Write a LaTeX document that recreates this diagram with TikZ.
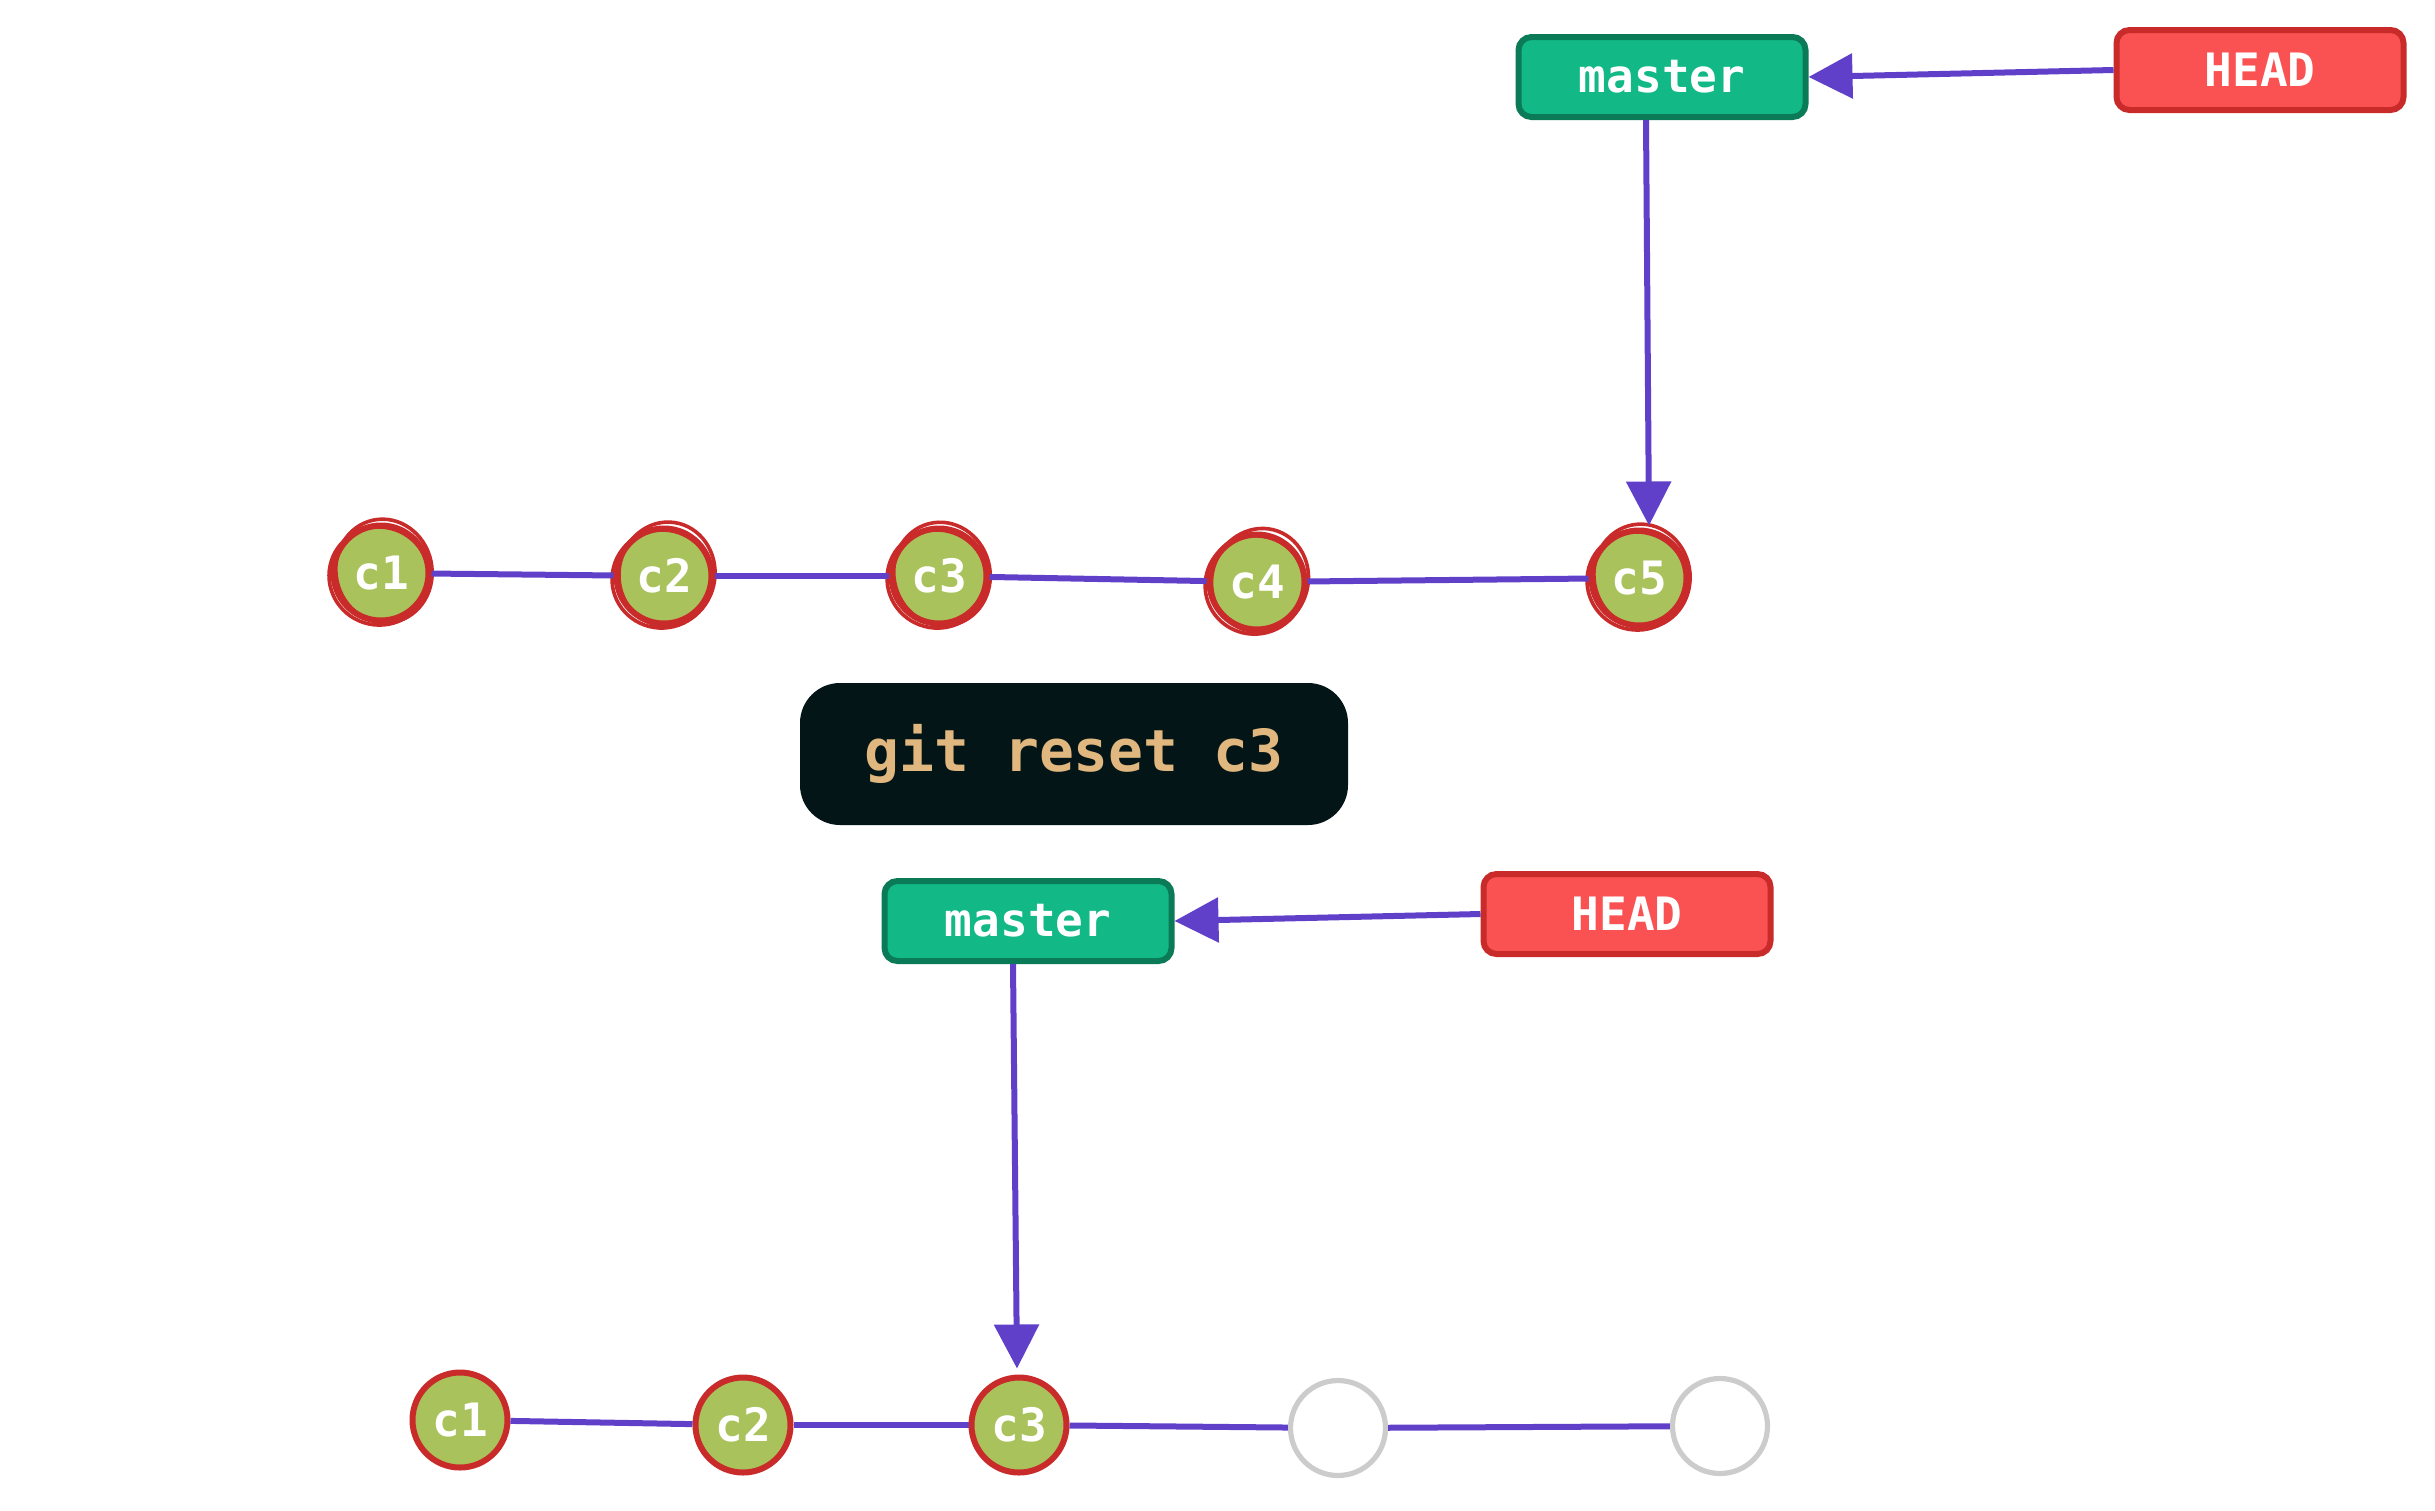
\documentclass[tikz,border=0pt]{standalone}
\usepackage{fontspec}
\newfontfamily\cf{DejaVu Sans Mono}
\usetikzlibrary{arrows.meta,calc}
\definecolor{gfill}{HTML}{12B886}
\definecolor{gdraw}{HTML}{0B7A57}
\definecolor{hfill}{HTML}{FA5252}
\definecolor{hdraw}{HTML}{C92A2A}
\definecolor{cfill}{HTML}{A9C25B}
\definecolor{edraw}{HTML}{CCCCCC}
\definecolor{vio}{HTML}{6040C8}
\definecolor{codebg}{HTML}{031516}
\definecolor{codefg}{HTML}{E0B77F}
\tikzset{
  branchbox/.style={draw=gdraw, fill=gfill, line width=3pt, rounded corners=6.5pt,
    minimum width=143.5pt, minimum height=40pt, text=white, font=\cf\bfseries\fontsize{23}{23}\selectfont},
  headbox/.style={draw=hdraw, fill=hfill, line width=3pt, rounded corners=6.5pt,
    minimum width=143.5pt, minimum height=40pt, text=white, font=\cf\bfseries\fontsize{23}{23}\selectfont},
  commit/.style={circle, draw=hdraw, fill=cfill, line width=3pt, minimum size=47.5pt, inner sep=0pt,
    text=white, font=\cf\bfseries\fontsize{23}{23}\selectfont},
  emptycommit/.style={circle, draw=edraw, line width=2.6pt, minimum size=47.5pt, inner sep=0pt},
  sketchline/.style={draw=hdraw, line width=1.8pt},
  link/.style={draw=vio, line width=3pt},
  pointer/.style={draw=vio, fill=vio, line width=3pt, -{Triangle[length=22pt,width=22pt]}},
  codebox/.style={fill=codebg, rounded corners=20pt, minimum width=274pt, minimum height=71pt,
    text=codefg, font=\cf\bfseries\fontsize{29}{29}\selectfont},
}
\begin{document}
\begin{tikzpicture}[x=0.5pt,y=-0.5pt]
\useasboundingbox (0,0) rectangle (2435,1510);
% top
\node[branchbox] (masterT) at (1662,77) {master\hspace{5pt}};
\node[headbox] (headT) at (2260,70) {HEAD\hspace{12pt}};
\node[commit] (c1T) at (381,573) {c1};
\node[commit] (c2T) at (664,576) {c2};
\node[commit] (c3T) at (939,576) {c3};
\node[commit] (c4T) at (1257,582) {c4};
\node[commit] (c5T) at (1639,578) {c5};
\foreach \n/\a in {c1T/12,c2T/-8,c3T/15,c4T/-20,c5T/10}{
  \draw[sketchline] ($(\n)+(3,-2)$) ellipse [x radius=24pt, y radius=26pt, rotate=\a];
  \draw[sketchline] ($(\n)+(-2,3)$) ellipse [x radius=25pt, y radius=24.5pt, rotate=-\a];
}
\draw[link] (c1T) -- (c2T);
\draw[link] (c2T) -- (c3T);
\draw[link] (c3T) -- (c4T);
\draw[link] (c4T) -- (c5T);
\draw[pointer] (headT.west) -- (masterT.east);
\draw[pointer] ($(masterT.south)+(-16,0)$) -- ($(c5T.north)+(10,-2)$);
% command
\node[codebox] (cmd) at (1074,754) {git reset c3};
% bottom
\node[branchbox] (masterB) at (1028,921) {master\hspace{5pt}};
\node[headbox] (headB) at (1627,914) {HEAD\hspace{12pt}};
\node[commit] (c1B) at (460,1420) {c1};
\node[commit] (c2B) at (743,1425) {c2};
\node[commit] (c3B) at (1019,1425) {c3};
\node[emptycommit] (c4B) at (1338,1428) {};
\node[emptycommit] (c5B) at (1720,1426) {};
\draw[link] (c1B) -- (c2B);
\draw[link] (c2B) -- (c3B);
\draw[link] (c3B) -- (c4B);
\draw[link] (c4B) -- (c5B);
\draw[pointer] (headB.west) -- (masterB.east);
\draw[pointer] ($(masterB.south)+(-15,0)$) -- ($(c3B.north)+(-2,-6)$);
\end{tikzpicture}
\end{document}
